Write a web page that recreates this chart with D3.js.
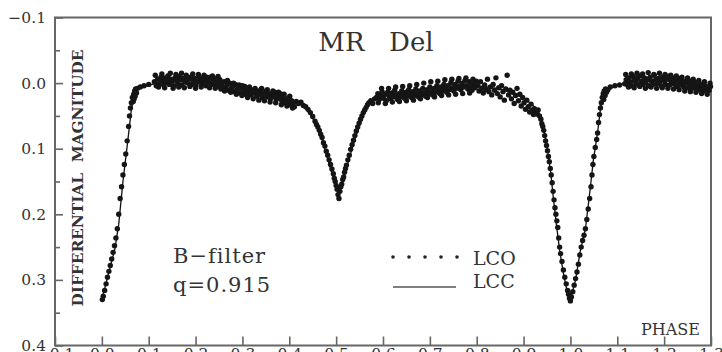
<!DOCTYPE html>
<html>
<head>
<meta charset="utf-8">
<script src="https://cdn.jsdelivr.net/npm/d3@7"></script>
<style>
  html, body { margin: 0; padding: 0; background: #fff; }
  svg { display: block; }
  text { font-family: "DejaVu Serif", "Liberation Serif", serif; fill: #333; }
</style>
</head>
<body>
<svg id="chart" width="722" height="352"></svg>
<script>
// Light curve of MR Del, B filter: observed points (LCO) and computed model (LCC)
const title = "MR  Del";
const yLabel = "DIFFERENTIAL  MAGNITUDE";
const xLabel = "PHASE";
const filterNote = "B\u2212filter";
const massRatio = "q=0.915";
const seriesNames = ["LCO", "LCC"];

const xTicks = [-0.1, 0.0, 0.1, 0.2, 0.3, 0.4, 0.5, 0.6, 0.7, 0.8, 0.9, 1.0, 1.1, 1.2, 1.3];
const yTicksMajor = [-0.1, 0.0, 0.1, 0.2, 0.3, 0.4];
const yTicksMinor = [-0.05, 0.05, 0.15, 0.25, 0.35];

// Observed differential magnitudes (LCO)
const obsPhase = [
  0.001, 0.003, 0.006, 0.009, 0.012, 0.015, 0.018, 0.021, 0.024, 0.027, 0.030, 0.033, 0.036, 0.039, 0.042, 0.045,
  0.048, 0.051, 0.054, 0.057, 0.059, 0.061, 0.063, 0.065, 0.067, 0.068, 0.069, 0.070, 0.071, 0.072, 0.074, 0.076,
  0.082, 0.090, 0.100,
  0.112, 0.116, 0.119, 0.122, 0.126, 0.129, 0.132, 0.135, 0.138, 0.141, 0.144, 0.147, 0.150, 0.153, 0.156, 0.159,
  0.162, 0.165, 0.168, 0.171, 0.174, 0.177, 0.180, 0.183, 0.186, 0.189, 0.192, 0.195, 0.198, 0.201, 0.204, 0.207,
  0.210, 0.213, 0.216, 0.219, 0.222, 0.225, 0.228, 0.231, 0.234, 0.237, 0.240, 0.243, 0.246, 0.249, 0.252, 0.255,
  0.114, 0.121, 0.128, 0.134, 0.140, 0.146, 0.152, 0.158, 0.164, 0.170, 0.176, 0.182, 0.188, 0.194, 0.200, 0.206,
  0.212, 0.218, 0.224, 0.230, 0.236, 0.242, 0.248, 0.254,
  0.258, 0.261, 0.264, 0.267, 0.270, 0.273, 0.276, 0.279, 0.282, 0.285, 0.288, 0.291, 0.294, 0.297, 0.300, 0.303,
  0.306, 0.309, 0.312, 0.315, 0.318, 0.321, 0.324, 0.327, 0.330, 0.333, 0.336, 0.339, 0.342, 0.345, 0.348, 0.351,
  0.354, 0.357, 0.360, 0.363, 0.366, 0.369, 0.372, 0.375, 0.378, 0.381, 0.384, 0.387, 0.390, 0.393, 0.396, 0.399,
  0.402, 0.405, 0.408, 0.411,
  0.262, 0.268, 0.275, 0.281, 0.287, 0.293, 0.299, 0.305, 0.311, 0.317, 0.323, 0.329, 0.335, 0.341, 0.347, 0.353,
  0.359, 0.365, 0.371, 0.377, 0.383, 0.389, 0.395, 0.401, 0.407,
  0.415, 0.420, 0.425, 0.430, 0.435, 0.440, 0.445, 0.450, 0.455, 0.458, 0.461, 0.464, 0.467, 0.470, 0.473, 0.476,
  0.479, 0.482, 0.485, 0.488, 0.491, 0.494, 0.496, 0.498, 0.500, 0.502, 0.504, 0.505, 0.506, 0.508,
  0.510, 0.512, 0.514, 0.516, 0.518, 0.520, 0.522, 0.525, 0.528, 0.531, 0.534, 0.537, 0.540, 0.543, 0.546, 0.549,
  0.552, 0.555, 0.558, 0.561, 0.564, 0.567, 0.570, 0.574, 0.578, 0.582,
  0.586, 0.589, 0.592, 0.595, 0.598, 0.601, 0.604, 0.607, 0.610, 0.613, 0.616, 0.619, 0.622, 0.625, 0.628, 0.631,
  0.634, 0.637, 0.640, 0.643, 0.646, 0.649, 0.652, 0.655, 0.658, 0.661, 0.664, 0.667, 0.670, 0.673, 0.676, 0.679,
  0.682, 0.685, 0.688, 0.691, 0.694, 0.697, 0.700, 0.703, 0.706, 0.709, 0.712, 0.715, 0.718, 0.721, 0.724, 0.727,
  0.730, 0.733, 0.736, 0.739, 0.742, 0.745, 0.748, 0.751, 0.754, 0.757, 0.760, 0.763, 0.766, 0.769, 0.772, 0.775,
  0.778, 0.781, 0.784, 0.787, 0.790, 0.793, 0.796, 0.799,
  0.590, 0.597, 0.605, 0.612, 0.620, 0.627, 0.635, 0.642, 0.650, 0.657, 0.665, 0.672, 0.680, 0.687, 0.695, 0.702,
  0.710, 0.717, 0.725, 0.732, 0.740, 0.747, 0.755, 0.762, 0.770, 0.777, 0.785, 0.792,
  0.802, 0.805, 0.808, 0.811, 0.814, 0.817, 0.820, 0.823, 0.826, 0.829, 0.832, 0.835, 0.838, 0.841, 0.844, 0.847,
  0.850, 0.853, 0.856, 0.859, 0.862, 0.865, 0.868, 0.871, 0.874, 0.877, 0.880, 0.883, 0.886, 0.889, 0.892, 0.895,
  0.898, 0.901, 0.904, 0.907, 0.910, 0.913, 0.916, 0.919, 0.921, 0.923, 0.925,
  0.928, 0.931, 0.934, 0.937, 0.939, 0.941, 0.943, 0.945, 0.947, 0.949, 0.951, 0.953, 0.955, 0.957, 0.959, 0.961,
  0.963, 0.965, 0.967, 0.969, 0.971, 0.973, 0.975, 0.977, 0.979, 0.982, 0.985, 0.988, 0.991, 0.994, 0.996, 0.998,
  1.000, 1.002,
  1.005, 1.008, 1.011, 1.014, 1.017, 1.020, 1.023, 1.026, 1.029, 1.032, 1.035, 1.038, 1.041, 1.044, 1.046, 1.048,
  1.050, 1.053, 1.056, 1.058, 1.060, 1.062, 1.064,
  1.066, 1.068, 1.070, 1.071, 1.072, 1.074, 1.075, 1.077, 1.080, 1.085, 1.095, 1.105,
  1.116, 1.119, 1.122, 1.125, 1.128, 1.131, 1.134, 1.137, 1.140, 1.143, 1.146, 1.149, 1.152, 1.155, 1.158, 1.161,
  1.164, 1.167, 1.170, 1.173, 1.176, 1.179, 1.182, 1.185, 1.188, 1.191, 1.194, 1.197, 1.200, 1.203, 1.206, 1.209,
  1.212, 1.215, 1.218, 1.221, 1.224, 1.227, 1.230, 1.233, 1.236, 1.239, 1.242, 1.245, 1.248, 1.251, 1.254, 1.257,
  1.260, 1.263, 1.266, 1.269, 1.272, 1.275, 1.278, 1.281, 1.284, 1.287, 1.290, 1.293, 1.296, 1.299,
  1.118, 1.124, 1.130, 1.136, 1.142, 1.148, 1.154, 1.160, 1.166, 1.172, 1.178, 1.184, 1.190, 1.196, 1.202, 1.208,
  1.214, 1.220, 1.226, 1.232, 1.238, 1.244, 1.250, 1.256, 1.262, 1.268, 1.274, 1.280, 1.286, 1.292, 1.298
];
const obsMag = [
  0.330, 0.325, 0.316, 0.306, 0.296, 0.287, 0.278, 0.268, 0.258, 0.248, 0.236, 0.222, 0.200, 0.176, 0.158, 0.140,
  0.124, 0.108, 0.088, 0.066, 0.050, 0.038, 0.030, 0.022, 0.028, 0.017, 0.024, 0.012, 0.020, 0.009, 0.015, 0.008,
  0.006, 0.004, 0.002,
  -0.002, 0.004, -0.006, 0.001, -0.009, -0.003, 0.003, -0.008, -0.001, -0.011, 0.002, -0.006, -0.003, 0.004, -0.008, -0.004,
  0.001, -0.010, -0.005, 0.003, -0.007, -0.002, -0.012, 0.000, -0.006, -0.009, 0.002, -0.004, -0.007, 0.003, -0.002, -0.010,
  -0.005, 0.001, -0.007, -0.003, 0.004, -0.006, -0.001, -0.009, 0.002, -0.004, -0.007, 0.003, -0.002, 0.005, -0.005, 0.001,
  -0.012, 0.006, -0.014, 0.007, -0.004, -0.015, 0.008, -0.013, 0.006, -0.015, 0.007, -0.009, 0.005, -0.014, 0.008, -0.013,
  0.006, -0.012, -0.009, 0.007, -0.011, 0.008, -0.010, 0.009,
  0.006, -0.002, 0.009, 0.003, 0.011, 0.000, 0.008, 0.005, 0.013, 0.002, 0.010, 0.006, 0.015, 0.008, 0.004, 0.012,
  0.017, 0.009, 0.014, 0.006, 0.018, 0.011, 0.015, 0.008, 0.020, 0.013, 0.017, 0.010, 0.022, 0.015, 0.019, 0.012,
  0.021, 0.016, 0.024, 0.017, 0.020, 0.014, 0.025, 0.019, 0.023, 0.016, 0.027, 0.021, 0.030, 0.024, 0.028, 0.022,
  0.033, 0.027, 0.031, 0.036,
  0.012, -0.004, 0.014, 0.000, 0.017, 0.003, 0.019, 0.005, 0.022, 0.010, 0.024, 0.012, 0.026, 0.008, 0.027, 0.010,
  0.029, 0.012, 0.030, 0.014, 0.033, 0.017, 0.035, 0.020, 0.038,
  0.028, 0.031, 0.029, 0.034, 0.036, 0.040, 0.045, 0.051, 0.058, 0.063, 0.067, 0.072, 0.078, 0.083, 0.091, 0.096,
  0.104, 0.110, 0.117, 0.124, 0.131, 0.138, 0.145, 0.150, 0.156, 0.162, 0.170, 0.160, 0.176, 0.165,
  0.158, 0.154, 0.147, 0.143, 0.136, 0.130, 0.125, 0.117, 0.110, 0.101, 0.094, 0.087, 0.080, 0.073, 0.067, 0.061,
  0.055, 0.050, 0.045, 0.041, 0.037, 0.033, 0.030, 0.027, 0.031, 0.024,
  0.022, 0.016, 0.025, 0.019, 0.013, 0.023, 0.017, 0.027, 0.014, 0.020, 0.024, 0.015, 0.021, 0.011, 0.018, 0.025,
  0.016, 0.021, 0.012, 0.019, 0.023, 0.014, 0.020, 0.010, 0.017, 0.022, 0.013, 0.019, 0.009, 0.016, 0.021, 0.012,
  0.018, 0.008, 0.015, 0.020, 0.010, 0.016, 0.006, 0.013, 0.018, 0.008, 0.014, 0.004, 0.011, 0.016, 0.006, 0.012,
  0.002, 0.009, 0.014, 0.004, 0.010, -0.001, 0.007, 0.012, 0.002, 0.008, -0.003, 0.005, 0.010, 0.000, 0.006, -0.004,
  0.004, 0.009, -0.002, 0.005, 0.011, 0.001, 0.007, -0.003,
  0.030, 0.008, 0.031, 0.008, 0.029, 0.006, 0.028, 0.005, 0.027, 0.004, 0.026, 0.002, 0.024, 0.000, 0.022, -0.002,
  0.021, -0.003, 0.019, -0.005, 0.018, -0.006, 0.017, -0.007, 0.016, -0.008, 0.015, -0.006,
  0.004, 0.012, -0.002, 0.008, 0.015, 0.003, 0.010, -0.006, 0.013, 0.006, 0.018, 0.002, 0.011, -0.008, 0.016, 0.007,
  0.021, 0.004, 0.013, 0.026, 0.009, -0.012, 0.018, 0.011, 0.024, 0.014, 0.031, 0.019, 0.008, 0.027, 0.017, 0.035,
  0.022, 0.030, 0.040, 0.026, 0.036, 0.044, 0.032, 0.041, 0.048, 0.039, 0.045,
  0.047, 0.041, 0.050, 0.055, 0.062, 0.066, 0.072, 0.080, 0.088, 0.095, 0.103, 0.112, 0.120, 0.130, 0.140, 0.152,
  0.165, 0.178, 0.190, 0.200, 0.210, 0.220, 0.236, 0.250, 0.260, 0.272, 0.285, 0.296, 0.306, 0.316, 0.322, 0.328,
  0.332, 0.326,
  0.318, 0.308, 0.298, 0.288, 0.276, 0.262, 0.250, 0.240, 0.232, 0.222, 0.208, 0.192, 0.176, 0.158, 0.140, 0.124,
  0.112, 0.098, 0.086, 0.076, 0.060, 0.048, 0.038,
  0.030, 0.022, 0.016, 0.025, 0.012, 0.019, 0.009, 0.014, 0.010, 0.006, 0.004, 0.003,
  0.001, -0.005, 0.003, -0.008, -0.002, 0.004, -0.010, -0.004, 0.001, -0.007, 0.003, -0.011, -0.003, 0.002, -0.008, -0.001,
  -0.006, 0.004, -0.009, -0.003, 0.002, -0.012, -0.005, 0.001, -0.007, -0.002, 0.004, -0.009, -0.004, 0.002, -0.006, -0.010,
  0.003, -0.003, -0.008, 0.001, -0.005, 0.005, -0.002, -0.007, 0.003, -0.003, 0.006, 0.000, -0.004, 0.007, 0.002, -0.003,
  0.008, 0.003, -0.001, 0.009, 0.004, 0.010, 0.002, 0.007, 0.012, 0.004, 0.009, 0.006, 0.011, 0.005,
  -0.013, 0.006, -0.014, 0.007, -0.015, 0.005, -0.014, 0.008, -0.016, 0.006, -0.013, 0.008, -0.015, 0.007, -0.013, 0.008,
  -0.012, 0.009, -0.011, 0.010, -0.009, 0.012, -0.008, 0.013, -0.006, 0.014, -0.004, 0.016, -0.002, 0.017, 0.000
];

// Computed light curve (LCC)
const modelPhase = [
  0.000, 0.018, 0.028, 0.036, 0.045, 0.055, 0.063, 0.070, 0.080, 0.100, 0.125, 0.190, 0.250, 0.300, 0.350, 0.400,
  0.430, 0.450, 0.470, 0.490, 0.505, 0.520, 0.540, 0.560, 0.575, 0.600, 0.650, 0.700, 0.750, 0.800, 0.850, 0.900,
  0.930, 0.937, 0.944, 0.951, 0.958, 0.964, 0.970, 0.977, 0.985, 0.993, 1.000, 1.011, 1.021, 1.032, 1.040, 1.049,
  1.058, 1.064, 1.070, 1.080, 1.100, 1.125, 1.190, 1.250, 1.300
];
const modelMag = [
  0.330, 0.280, 0.252, 0.215, 0.150, 0.090, 0.040, 0.014, 0.008, 0.003, -0.001, -0.004, -0.002, 0.008, 0.018, 0.026,
  0.034, 0.053, 0.086, 0.135, 0.164, 0.135, 0.085, 0.045, 0.028, 0.020, 0.016, 0.013, 0.007, 0.004, 0.009, 0.022,
  0.040, 0.052, 0.072, 0.102, 0.137, 0.178, 0.215, 0.255, 0.290, 0.318, 0.330, 0.300, 0.256, 0.222, 0.175, 0.117,
  0.075, 0.040, 0.014, 0.008, 0.003, -0.001, -0.004, -0.002, 0.008
];

const svg = d3.select("#chart");
const frame = { left: 55, right: 711, top: 17.5, bottom: 345.5 };
const axisGrey = "#666";

const x = d3.scaleLinear().domain([-0.1, 1.3]).range([frame.left, frame.right]);
const y = d3.scaleLinear().domain([-0.1, 0.4]).range([frame.top, frame.bottom]);

// Left axis: inward ticks, labels outside
const yAxis = d3.axisLeft(y).tickValues(yTicksMajor).tickSize(-8).tickPadding(9)
  .tickFormat(d3.format(".1f"));
const gy = svg.append("g").attr("transform", `translate(${frame.left},0)`).call(yAxis);
gy.select(".domain").remove();
gy.selectAll(".tick line").attr("stroke", axisGrey).attr("stroke-width", 1.6);
gy.selectAll(".tick text").attr("font-size", 15.5).attr("fill", "#333")
  .attr("font-family", "DejaVu Serif");

const yAxisMinor = d3.axisLeft(y).tickValues(yTicksMinor).tickSize(-5).tickFormat("");
const gym = svg.append("g").attr("transform", `translate(${frame.left},0)`).call(yAxisMinor);
gym.select(".domain").remove();
gym.selectAll(".tick line").attr("stroke", axisGrey).attr("stroke-width", 1.6);

// Bottom axis: inward ticks, labels just below the frame
const xAxis = d3.axisBottom(x).tickValues(xTicks).tickSize(-9).tickPadding(2)
  .tickFormat(d3.format(".1f"));
const gx = svg.append("g").attr("transform", `translate(0,${frame.bottom})`).call(xAxis);
gx.select(".domain").remove();
gx.selectAll(".tick line").attr("stroke", axisGrey).attr("stroke-width", 1.6);
gx.selectAll(".tick text").attr("font-size", 15.5).attr("fill", "#333")
  .attr("font-family", "DejaVu Serif");

// Plot frame
svg.append("rect")
  .attr("x", frame.left).attr("y", frame.top)
  .attr("width", frame.right - frame.left).attr("height", frame.bottom - frame.top)
  .attr("fill", "none").attr("stroke", axisGrey).attr("stroke-width", 2);

// Model curve
const model = modelPhase.map((p, i) => [p, modelMag[i]]);
svg.append("path")
  .datum(model)
  .attr("fill", "none").attr("stroke", "#111").attr("stroke-width", 1.3)
  .attr("d", d3.line().x(d => x(d[0])).y(d => y(d[1])));

// Observations
const obs = obsPhase.map((p, i) => [p, obsMag[i]]);
svg.append("g").selectAll("circle")
  .data(obs).join("circle")
  .attr("cx", d => x(d[0])).attr("cy", d => y(d[1]))
  .attr("r", 2.7).attr("fill", "#151515");

// Title
svg.append("text")
  .attr("x", 376).attr("y", 51).attr("text-anchor", "middle")
  .attr("font-size", 26).attr("word-spacing", 4).style("white-space", "pre")
  .text(title);

// Vertical axis title
svg.append("text")
  .attr("transform", "translate(83,178) rotate(-90)")
  .attr("text-anchor", "middle").attr("font-size", 15).attr("font-weight", "bold")
  .attr("fill", "#3a3a3a")
  .attr("textLength", 257).attr("lengthAdjust", "spacingAndGlyphs")
  .style("white-space", "pre")
  .text(yLabel);

// Horizontal axis title
svg.append("text")
  .attr("x", 700).attr("y", 335).attr("text-anchor", "end")
  .attr("font-size", 16)
  .text(xLabel);

// Annotations
svg.append("text").attr("x", 173).attr("y", 263).attr("font-size", 21)
  .attr("letter-spacing", 1).text(filterNote);
svg.append("text").attr("x", 173).attr("y", 292).attr("font-size", 21)
  .attr("letter-spacing", 1).text(massRatio);

// Legend
const legendX = d3.scaleLinear().domain([0, 4]).range([393, 457]);
svg.append("g").selectAll("circle")
  .data(d3.range(5)).join("circle")
  .attr("cx", d => legendX(d)).attr("cy", 257).attr("r", 1.8).attr("fill", "#222");
svg.append("line")
  .attr("x1", 393).attr("x2", 456).attr("y1", 287).attr("y2", 287)
  .attr("stroke", "#555").attr("stroke-width", 1.5);
svg.append("text").attr("x", 473).attr("y", 265).attr("font-size", 19).text(seriesNames[0]);
svg.append("text").attr("x", 473).attr("y", 288).attr("font-size", 19).text(seriesNames[1]);
</script>
</body>
</html>
